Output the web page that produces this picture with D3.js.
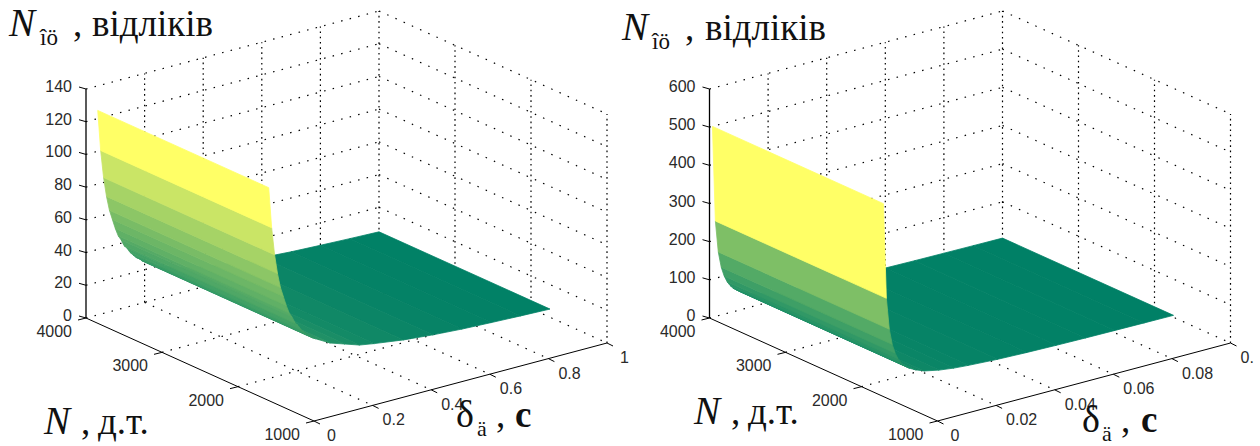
<!DOCTYPE html>
<html>
<head>
<meta charset="utf-8">
<script src="https://cdn.jsdelivr.net/npm/d3@7"></script>
<style>
html, body { margin: 0; padding: 0; background: #fff; }
svg { display: block; }
.tick-label { font-family: "Liberation Sans", sans-serif; font-size: 16px; fill: #2a2a2a; }
.title { font-family: "Liberation Serif", serif; fill: #111; }
</style>
</head>
<body>
<svg id="chart" width="1260" height="446"></svg>
<script>
// values
var nRange = [1000, 4000];
var nTicks = [1000, 2000, 3000, 4000];
var nSurface = [1750, 4000];

var deltaLeft = [0.04, 0.05, 0.06, 0.07, 0.08, 0.09, 0.1, 0.11, 0.12, 0.13, 0.14, 0.15, 0.16, 0.17, 0.18, 0.19, 0.2, 0.25, 0.3, 0.35, 0.4, 0.5, 0.6, 0.7, 0.8, 0.9, 1];
var countLeft = [125, 100, 83, 71, 62, 56, 50, 45, 42, 38, 36, 33, 31, 29, 28, 26, 25, 20, 17, 14, 12.5, 10, 8.3, 7.1, 6.3, 5.6, 5];
var deltaTicksLeft = [0, 0.2, 0.4, 0.6, 0.8, 1];
var deltaLabelsLeft = ['0', '0.2', '0.4', '0.6', '0.8', '1'];
var zTicksLeft = [0, 20, 40, 60, 80, 100, 120, 140];

var deltaRight = [0.001, 0.002, 0.003, 0.004, 0.005, 0.006, 0.007, 0.008, 0.009, 0.01, 0.012, 0.015, 0.02, 0.025, 0.03, 0.04, 0.05, 0.06, 0.07, 0.08, 0.09, 0.1];
var countRight = [500, 250, 167, 125, 100, 83, 71, 62, 56, 50, 42, 33, 25, 20, 17, 12.5, 10, 8.3, 7.1, 6.3, 5.6, 5];
var deltaTicksRight = [0, 0.02, 0.04, 0.06, 0.08, 0.1];
var deltaLabelsRight = ['0', '0.02', '0.04', '0.06', '0.08', '0.'];
var zTicksRight = [0, 100, 200, 300, 400, 500, 600];

var svg = d3.select('#chart');
var lineGen = d3.line();

function drawPanel(ox, delta, count, deltaTicks, deltaLabels, zTicks) {
	var g = svg.append('g');

	// oblique box: each data axis moves the point along one screen direction
	var nx = d3.scaleLinear().domain(nRange).range([0, -228]);
	var ny = d3.scaleLinear().domain(nRange).range([0, -103]);
	var dx = d3.scaleLinear().domain(d3.extent(deltaTicks)).range([0, 293]);
	var dy = d3.scaleLinear().domain(d3.extent(deltaTicks)).range([0, -78]);
	var zy = d3.scaleLinear().domain(d3.extent(zTicks)).range([0, -229]);

	function project(n, d, z) {
		return [ox + 314 + nx(n) + dx(d), 421 + ny(n) + dy(d) + zy(z)];
	}

	var color = d3.scaleLinear().domain(d3.extent(count)).range(['#008066', '#ffff66']);

	var nMax = nRange[1], nMin = nRange[0];
	var dMax = d3.max(deltaTicks), dMin = d3.min(deltaTicks);
	var zMax = d3.max(zTicks);

	function dotted(a, b, dash) {
		g.append('path')
			.attr('d', lineGen([a, b]))
			.attr('fill', 'none')
			.attr('stroke', '#000')
			.attr('stroke-width', 1.2)
			.attr('stroke-dasharray', dash);
	}

	// back walls and floor
	zTicks.forEach(function(z) {
		dotted(project(nMax, dMin, z), project(nMax, dMax, z), '1.5 7.3');
		dotted(project(nMax, dMax, z), project(nMin, dMax, z), '1.5 7.5');
	});
	deltaTicks.forEach(function(d) {
		if(d != dMin) dotted(project(nMax, d, 0), project(nMax, d, zMax), '1.6 3.7');
		if(d != dMin && d != dMax) dotted(project(nMax, d, 0), project(nMin, d, 0), '1.5 7.5');
	});
	nTicks.forEach(function(n) {
		if(n != nMax) dotted(project(n, dMax, 0), project(n, dMax, zMax), '1.6 3.7');
		if(n != nMin && n != nMax) dotted(project(n, dMin, 0), project(n, dMax, 0), '1.5 7.3');
	});

	// surface, far strips first so that the wall covers the flat part
	for(var i = delta.length - 2; i >= 0; i--) {
		var quad = [
			project(nSurface[0], delta[i], count[i]),
			project(nSurface[1], delta[i], count[i]),
			project(nSurface[1], delta[i+1], count[i+1]),
			project(nSurface[0], delta[i+1], count[i+1])
		];
		g.append('path')
			.attr('d', lineGen(quad) + 'Z')
			.attr('fill', color(count[i]))
			.attr('stroke', color(count[i]))
			.attr('stroke-width', 0.8);
	}

	// axes
	function solid(a, b, w) {
		g.append('path')
			.attr('d', lineGen([a, b]))
			.attr('fill', 'none')
			.attr('stroke', '#000')
			.attr('stroke-width', w);
	}
	solid(project(nMax, dMin, 0), project(nMax, dMin, zMax), 1.3);
	solid(project(nMax, dMin, 0), project(nMin, dMin, 0), 1);
	solid(project(nMin, dMin, 0), project(nMin, dMax, 0), 1);

	// ticks and labels
	zTicks.forEach(function(z) {
		var p = project(nMax, dMin, z);
		solid(p, [p[0] - 7, p[1] - 2], 1);
		g.append('text').attr('class', 'tick-label')
			.attr('x', p[0] - 14).attr('y', p[1] + 3)
			.attr('text-anchor', 'end')
			.text(z);
	});
	nTicks.forEach(function(n) {
		var p = project(n, dMin, 0);
		solid(p, [p[0] - 8, p[1] + 2], 1);
		g.append('text').attr('class', 'tick-label')
			.attr('x', p[0] - 14).attr('y', p[1] + 19)
			.attr('text-anchor', 'end')
			.text(n);
	});
	deltaTicks.forEach(function(d, i) {
		var p = project(nMin, d, 0);
		solid(p, [p[0] + 6, p[1] + 3], 1);
		g.append('text').attr('class', 'tick-label')
			.attr('x', p[0] + (deltaLabels[i].length == 1 ? 13 : 10)).attr('y', p[1] + 20)
			.text(deltaLabels[i]);
	});
}

drawPanel(0, deltaLeft, countLeft, deltaTicksLeft, deltaLabelsLeft, zTicksLeft);
drawPanel(623.5, deltaRight, countRight, deltaTicksRight, deltaLabelsRight, zTicksRight);

function title(x, y, size, text, style, weight) {
	svg.append('text').attr('class', 'title')
		.attr('x', x).attr('y', y)
		.attr('font-size', size)
		.attr('font-style', style || 'normal')
		.attr('font-weight', weight || 'normal')
		.text(text);
}

// axis titles, left
title(9, 36, 39, 'N', 'italic');
title(40, 45, 23, 'îö');
title(73, 36, 37, ',');
title(92, 36, 37, 'відліків');
title(44, 434, 39, 'N', 'italic');
title(81, 434, 37, ',');
title(98, 434, 37, 'д.т.');
title(456, 427, 38, 'δ');
title(477, 436, 22, 'ä');
title(496, 427, 37, ',');
title(515, 427, 37, 'c', 'normal', 'bold');

// axis titles, right
title(622, 40, 39, 'N', 'italic');
title(652, 49, 23, 'îö');
title(685, 40, 37, ',');
title(705, 40, 37, 'відліків');
title(694, 424, 39, 'N', 'italic');
title(731, 424, 37, ',');
title(748, 424, 37, 'д.т.');
title(1082, 432, 38, 'δ');
title(1102, 441, 22, 'ä');
title(1121, 432, 37, ',');
title(1141, 432, 37, 'c', 'normal', 'bold');
</script>
</body>
</html>
